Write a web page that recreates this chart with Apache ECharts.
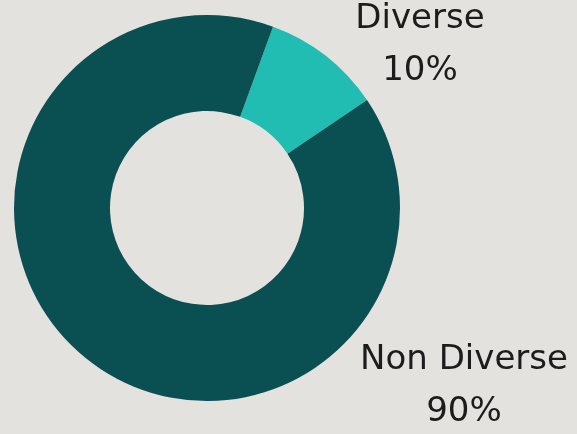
<!DOCTYPE html>
<html>
<head>
<meta charset="utf-8">
<style>
  html, body { margin: 0; padding: 0; background: #e3e2de; }
  #chart { width: 577px; height: 434px; }
</style>
<script src="https://cdn.jsdelivr.net/npm/echarts@6/dist/echarts.min.js"></script>
</head>
<body>
<div id="chart"></div>
<script>
const categories = ['Diverse', 'Non Diverse'];
const shares = [10, 90];
const colors = ['#22bdb2', '#0a4f52'];

// Label anchor points (centre of each two-line label)
const labelAnchors = [[420, 45], [464, 386]];

const chart = echarts.init(document.getElementById('chart'));
chart.setOption({
  backgroundColor: '#e3e2de',
  animation: false,
  series: [{
    type: 'pie',
    center: [207, 208],
    radius: [97, 193],
    startAngle: 70,
    clockwise: true,
    data: categories.map((name, i) => ({
      name,
      value: shares[i],
      itemStyle: { color: colors[i] }
    })),
    label: {
      show: true,
      position: 'outside',
      formatter: p => p.name + '\n' + Math.round(p.percent) + '%',
      color: '#1c1c1c',
      fontFamily: 'DejaVu Sans',
      fontWeight: 'normal',
      fontSize: 34,
      lineHeight: 52,
      align: 'center',
      overflow: 'none',
      width: 300
    },
    labelLine: { show: false },
    labelLayout: p => ({
      x: labelAnchors[p.dataIndex][0],
      y: labelAnchors[p.dataIndex][1],
      align: 'center',
      verticalAlign: 'middle'
    })
  }]
});
</script>
</body>
</html>
